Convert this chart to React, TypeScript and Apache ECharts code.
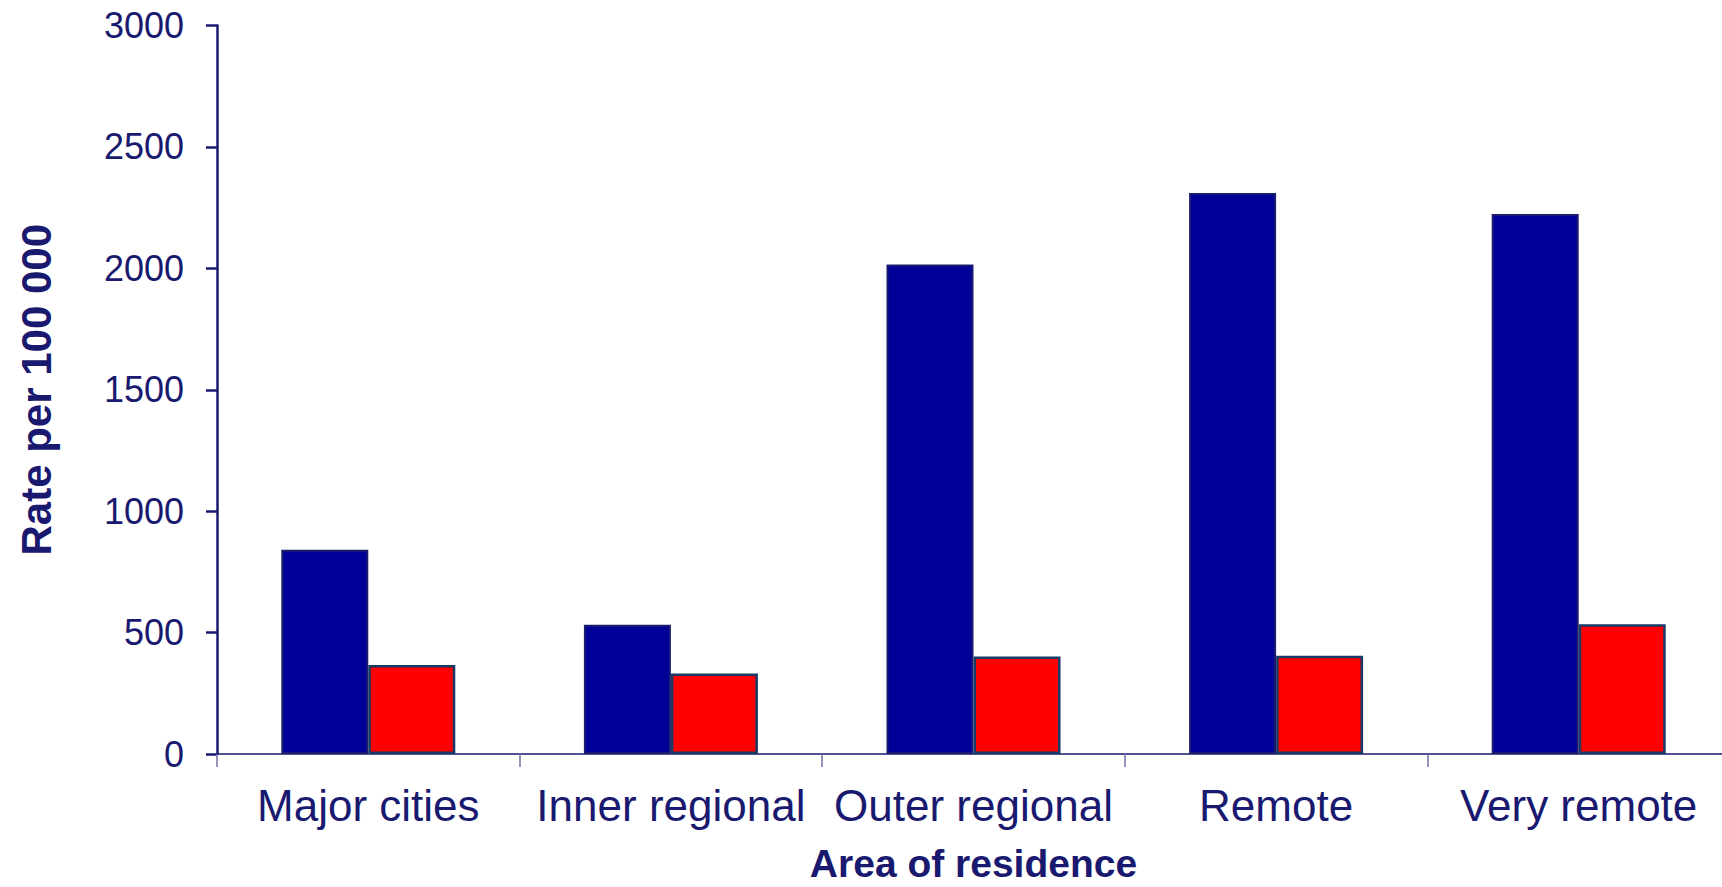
import React, { useEffect, useRef } from "react";
import * as echarts from "echarts";

const categories = ["Major cities", "Inner regional", "Outer regional", "Remote", "Very remote"];
const seriesBlue = [841, 532, 2016, 2310, 2224];
const seriesRed = [366, 331, 402, 405, 534];
const yTicks = { min: 0, max: 3000, interval: 500 };

const NAVY = "#191970";
const FONT = "Liberation Sans, Arial, sans-serif";

export default function App() {
  const ref = useRef<HTMLDivElement>(null);
  useEffect(() => {
    if (!ref.current) return;
    const chart = echarts.init(ref.current, undefined, { renderer: "svg" });
    chart.setOption({
      animation: false,
      backgroundColor: "#ffffff",
      grid: { left: 217, right: 1, top: 25.5, bottom: 133, containLabel: false, outerBoundsMode: "none" },
      xAxis: {
        type: "category",
        data: categories,
        boundaryGap: true,
        name: "Area of residence",
        nameLocation: "middle",
        nameGap: 91,
        nameTextStyle: { color: NAVY, fontSize: 39, lineHeight: 36, fontWeight: "bold", fontFamily: FONT },
        axisLine: { lineStyle: { color: NAVY, width: 1.5 } },
        axisTick: { show: true, alignWithLabel: false, length: 13, lineStyle: { color: "#7070a8", width: 1.5 } },
        axisLabel: { color: NAVY, fontSize: 44, margin: 29, fontFamily: FONT, interval: 0 },
        splitLine: { show: false },
      },
      yAxis: {
        type: "value",
        min: yTicks.min,
        max: yTicks.max,
        interval: yTicks.interval,
        name: "Rate per 100 000",
        nameLocation: "middle",
        nameGap: 160,
        nameRotate: 90,
        nameTextStyle: { color: NAVY, fontSize: 42, fontWeight: "bold", fontFamily: FONT },
        axisLine: { show: true, lineStyle: { color: NAVY, width: 2.5 } },
        axisTick: { show: true, inside: false, length: 11, lineStyle: { color: NAVY, width: 2.5 } },
        axisLabel: { color: NAVY, fontSize: 36, margin: 33, fontFamily: FONT, formatter: (v: number) => String(v) },
        splitLine: { show: false },
      },
      series: [
        {
          name: "Series 1",
          type: "bar",
          data: seriesBlue,
          barWidth: 87,
          barGap: "0%",
          itemStyle: { color: "#000099", borderColor: "#1c1c6e", borderWidth: 2 },
        },
        {
          name: "Series 2",
          type: "bar",
          data: seriesRed,
          barWidth: 87,
          barGap: "0%",
          itemStyle: { color: "#ff0000", borderColor: "#173a66", borderWidth: 2.5 },
        },
      ],
    });
    return () => chart.dispose();
  }, []);
  return (
    <div
      ref={ref}
      style={{ position: "fixed", left: 0, top: 0, width: 1731, height: 887, background: "#fff" }}
    />
  );
}
